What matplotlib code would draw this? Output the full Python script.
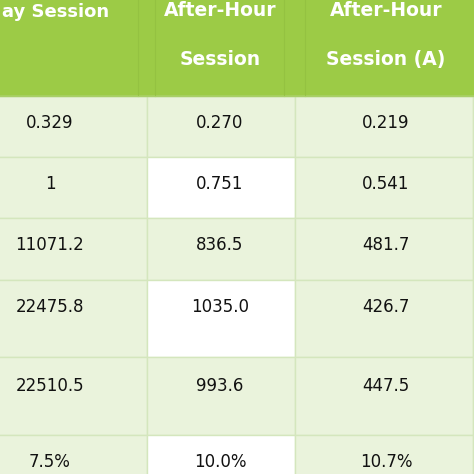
import matplotlib
matplotlib.use("Agg")
import matplotlib.pyplot as plt
from matplotlib.patches import Rectangle

headers = ["ay Session", "After-Hour\n\nSession", "After-Hour\n\nSession (A)"]
col1 = ["0.329", "1", "11071.2", "22475.8", "22510.5", "7.5%"]
col2 = ["0.270", "0.751", "836.5", "1035.0", "993.6", "10.0%"]
col3 = ["0.219", "0.541", "481.7", "426.7", "447.5", "10.7%"]
white_cells = [(1, 1), (3, 1), (5, 1)]  # (row, col) highlighted white

col_edges = [-20, 147, 295, 473, 500]
row_edges = [96, 157, 218, 280, 357, 435, 500]
text_y = [123, 184, 245, 307, 386, 462]
col_x = [50, 220, 386]

fig = plt.figure(figsize=(4.74, 4.74), dpi=100)
ax = fig.add_axes([0, 0, 1, 1])
ax.set_xlim(0, 474); ax.set_ylim(474, 0); ax.axis("off")

green = "#9ccb46"; light = "#eaf3dc"; line = "#d4e6bd"
ax.add_patch(Rectangle((-10, -10), 500, 106, color=green, lw=0))
for x in [138, 155, 284, 305]:
    ax.plot([x, x], [0, 96], color="#94c241", lw=0.8)
ax.plot([-10, 500], [96, 96], color="#a8cf68", lw=1.0)

cols = [col1, col2, col3]
for r in range(6):
    for c in range(3):
        x0, x1 = col_edges[c], col_edges[c+1]
        y0, y1 = row_edges[r], row_edges[r+1]
        fc = "white" if (r, c) in white_cells else light
        ax.add_patch(Rectangle((x0, y0), x1 - x0, y1 - y0, facecolor=fc,
                               edgecolor=line, lw=1.0))
        ax.text(col_x[c], text_y[r], cols[c][r], ha="center", va="center",
                fontsize=12, color="#111111", family="DejaVu Sans")
ax.add_patch(Rectangle((473, 96), 10, 400, facecolor=light, edgecolor=line, lw=1.0))

ax.text(2, 12, headers[0], ha="left", va="center", fontsize=13, color="white", fontweight="bold")
ax.text(220, 35, headers[1], ha="center", va="center", fontsize=13.5, color="white", fontweight="bold", linespacing=1.35)
ax.text(386, 35, headers[2], ha="center", va="center", fontsize=13.5, color="white", fontweight="bold", linespacing=1.35)

fig.savefig("out.png", dpi=100)
